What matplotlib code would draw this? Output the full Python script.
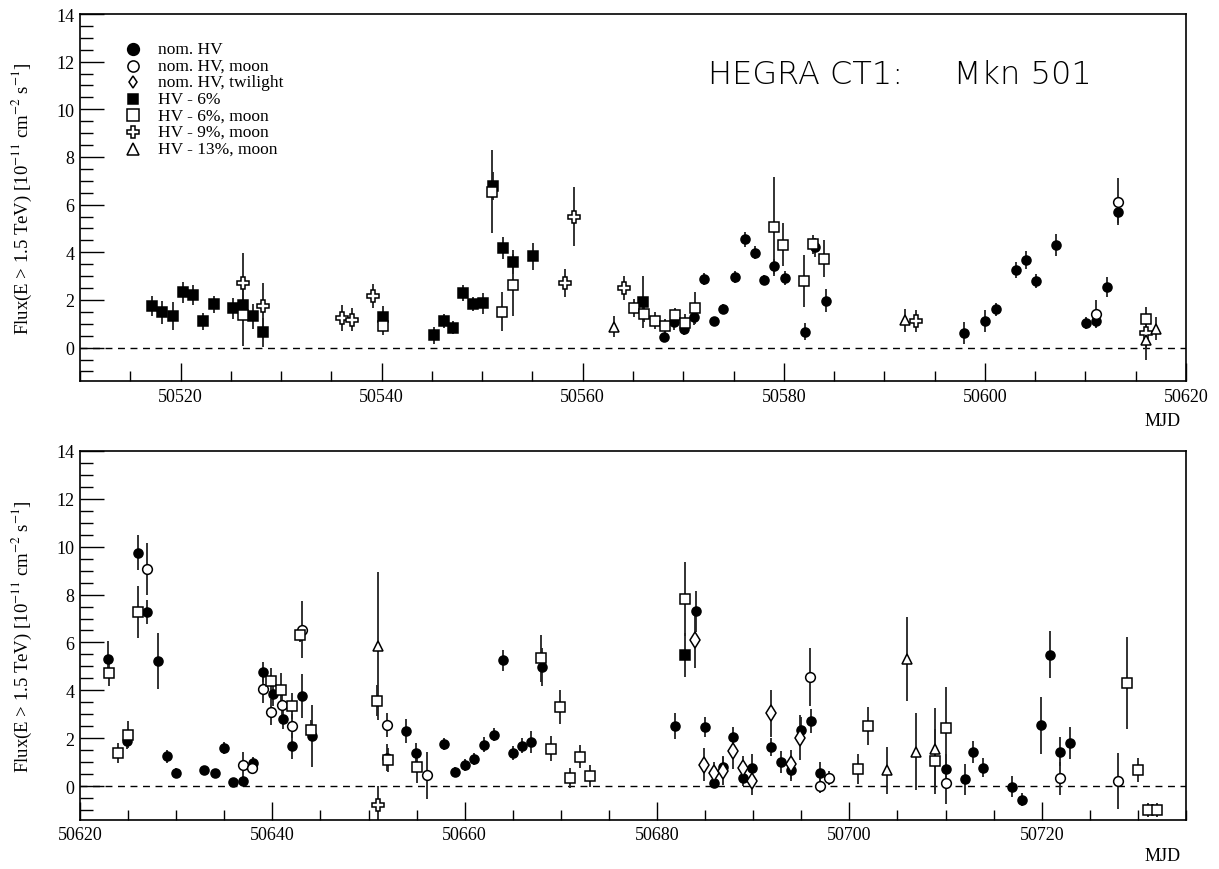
import matplotlib
matplotlib.use("Agg")
import matplotlib.pyplot as plt
from matplotlib.ticker import MultipleLocator
import numpy as np

# ---------------- data: top panel ----------------
t_nom_x = [50568.1, 50569.1, 50570.1, 50571.1, 50572.1, 50573.1, 50574.0, 50575.1, 50576.1,
           50577.1, 50578.0, 50579.0, 50580.1, 50582.1, 50583.1, 50584.2, 50597.9, 50600.0,
           50601.1, 50603.1, 50604.1, 50605.1, 50607.1, 50610.1, 50611.0, 50612.1, 50613.2]
t_nom_y = [0.43, 1.06, 0.78, 1.27, 2.89, 1.12, 1.63, 2.96, 4.54, 3.98, 2.85, 3.41, 2.92, 0.67,
           4.22, 1.97, 0.61, 1.12, 1.61, 3.26, 3.66, 2.81, 4.30, 1.03, 1.10, 2.53, 5.69]
t_nom_e = [0.2, 0.3, 0.25, 0.3, 0.25, 0.15, 0.2, 0.25, 0.3, 0.28, 0.2, 0.3, 0.3, 0.35, 0.4,
           0.47, 0.47, 0.45, 0.28, 0.32, 0.38, 0.3, 0.45, 0.24, 0.24, 0.42, 0.45]

t_moon_x = [50611.0, 50613.2]
t_moon_y = [1.41, 6.13]
t_moon_e = [0.57, 1.0]

t_hv6_x = [50517.2, 50518.2, 50519.2, 50520.2, 50521.2, 50522.2, 50523.3, 50525.2, 50526.2,
           50527.2, 50528.2, 50540.1, 50545.2, 50546.2, 50547.1, 50548.1, 50549.1, 50550.1,
           50551.1, 50552.1, 50553.1, 50555.1, 50566.0]
t_hv6_y = [1.73, 1.48, 1.31, 2.32, 2.21, 1.10, 1.82, 1.66, 1.80, 1.31, 0.64, 1.28, 0.52, 1.12,
           0.84, 2.29, 1.82, 1.86, 6.78, 4.19, 3.59, 3.83, 1.91]
t_hv6_e = [0.42, 0.47, 0.59, 0.45, 0.41, 0.34, 0.35, 0.44, 0.4, 0.54, 0.6, 0.45, 0.35, 0.3,
           0.28, 0.34, 0.3, 0.45, 0.6, 0.45, 0.5, 0.57, 1.1]

t_hv6m_x = [50526.2, 50540.1, 50551.0, 50552.0, 50553.1, 50565.1, 50566.1, 50567.2, 50568.2,
            50569.2, 50570.2, 50571.2, 50579.0, 50579.9, 50582.0, 50582.9, 50584.0, 50616.0]
t_hv6m_y = [1.38, 0.92, 6.55, 1.51, 2.63, 1.66, 1.42, 1.13, 0.92, 1.38, 1.05, 1.66, 5.08, 4.32,
            2.79, 4.34, 3.74, 1.2]
t_hv6m_e = [1.3, 0.4, 1.73, 0.81, 1.3, 0.36, 0.35, 0.35, 0.3, 0.3, 0.35, 0.68, 2.07, 0.9,
            1.08, 0.4, 0.77, 0.5]

t_hv9_x = [50526.2, 50528.2, 50536.1, 50537.1, 50539.1, 50558.2, 50559.1, 50564.1, 50593.1, 50616.0]
t_hv9_y = [2.72, 1.76, 1.26, 1.17, 2.17, 2.70, 5.50, 2.51, 1.12, 0.6]
t_hv9_e = [1.25, 0.96, 0.55, 0.48, 0.52, 0.58, 1.24, 0.5, 0.45, 0.6]

t_hv13_x = [50563.1, 50592.1, 50616.0, 50617.0]
t_hv13_y = [0.87, 1.15, 0.3, 0.8]
t_hv13_e = [0.44, 0.49, 0.8, 0.5]

# ---------------- data: bottom panel ----------------
b_nom_x = [50622.9, 50624.9, 50626.0, 50627.0, 50628.1, 50629.0, 50630.0, 50632.9, 50634.0,
           50635.0, 50635.9, 50637.0, 50638.0, 50639.0, 50640.1, 50641.1, 50642.0, 50643.1,
           50644.1, 50651.9, 50653.9, 50654.9, 50657.9, 50659.0, 50660.0, 50661.0, 50662.0,
           50663.0, 50664.0, 50665.0, 50666.0, 50666.9, 50668.0, 50681.9, 50684.0, 50685.0,
           50685.9, 50686.9, 50687.9, 50688.9, 50689.9, 50691.9, 50692.9, 50693.9, 50695.0,
           50696.0, 50696.9, 50710.0, 50712.0, 50712.9, 50713.9, 50716.9, 50717.9, 50719.9,
           50720.9, 50721.9, 50722.9]
b_nom_y = [5.31, 1.88, 9.75, 7.28, 5.22, 1.24, 0.54, 0.66, 0.54, 1.58, 0.17, 0.20, 0.95, 4.77,
           3.84, 2.79, 1.67, 3.75, 2.09, 1.19, 2.30, 1.37, 1.74, 0.59, 0.88, 1.13, 1.73, 2.15,
           5.25, 1.38, 1.69, 1.84, 4.98, 2.51, 7.30, 2.47, 0.14, 0.81, 2.05, 0.32, 0.75, 1.63,
           1.01, 0.66, 2.33, 2.71, 0.54, 0.73, 0.28, 1.42, 0.77, -0.04, -0.57, 2.53, 5.48,
           1.44, 1.80]
b_nom_e = [0.75, 0.35, 0.73, 0.5, 1.17, 0.27, 0.2, 0.17, 0.13, 0.25, 0.1, 0.2, 0.25, 0.43,
           0.5, 0.4, 0.53, 0.92, 1.3, 0.58, 0.49, 0.43, 0.25, 0.2, 0.25, 0.25, 0.3, 0.28, 0.45,
           0.28, 0.3, 0.45, 0.8, 0.55, 0.87, 0.43, 0.2, 0.45, 0.4, 0.3, 0.6, 0.38, 0.45, 0.45,
           0.55, 0.5, 0.45, 0.6, 0.64, 0.47, 0.38, 0.44, 0.28, 1.2, 0.98, 0.6, 0.68]

b_moon_x = [50627.0, 50636.9, 50637.9, 50639.0, 50639.9, 50641.0, 50642.0, 50643.1, 50651.9,
            50656.1, 50695.9, 50696.9, 50697.9, 50710.0, 50721.9, 50727.9]
b_moon_y = [9.07, 0.87, 0.74, 4.05, 3.10, 3.39, 2.51, 6.53, 2.55, 0.45, 4.56, -0.01, 0.34,
            0.13, 0.32, 0.21]
b_moon_e = [1.07, 0.55, 0.2, 0.6, 0.55, 0.5, 0.5, 1.2, 0.5, 0.98, 1.22, 0.3, 0.3, 0.9, 0.68, 1.16]

b_twi_x = [50683.9, 50684.9, 50685.9, 50686.9, 50687.9, 50688.9, 50689.9, 50691.9, 50693.9, 50694.9]
b_twi_y = [6.10, 0.88, 0.56, 0.63, 1.47, 0.77, 0.21, 3.03, 0.91, 2.02]
b_twi_e = [1.15, 0.69, 0.45, 0.6, 0.77, 0.5, 0.6, 1.0, 0.6, 0.93]

b_hv6_x = [50682.9]
b_hv6_y = [5.47]
b_hv6_e = [0.92]

b_hv6m_x = [50623.0, 50624.0, 50625.0, 50626.0, 50639.9, 50640.9, 50642.0, 50642.9, 50644.0,
            50650.9, 50652.0, 50655.0, 50667.9, 50669.0, 50669.9, 50671.0, 50672.0, 50673.0,
            50682.9, 50700.9, 50701.9, 50708.9, 50710.0, 50728.9, 50730.0, 50731.0, 50732.0]
b_hv6m_y = [4.72, 1.38, 2.15, 7.27, 4.37, 4.03, 3.35, 6.32, 2.34, 3.56, 1.09, 0.81, 5.33, 1.56,
            3.29, 0.35, 1.23, 0.41, 7.81, 0.71, 2.51, 1.03, 2.44, 4.31, 0.65, -1.0, -1.0]
b_hv6m_e = [0.55, 0.43, 0.55, 1.08, 0.55, 0.7, 0.55, 0.3, 0.4, 0.65, 0.5, 0.7, 1.0, 0.52, 0.71,
            0.42, 0.47, 0.45, 1.55, 0.64, 0.81, 1.35, 1.7, 1.93, 0.5, 0.3, 0.3]

b_hv9_x = [50651.0]
b_hv9_y = [-0.79]
b_hv9_e = [0.8]

b_hv13_x = [50651.0, 50703.9, 50706.0, 50706.9, 50708.9]
b_hv13_y = [5.86, 0.66, 5.30, 1.44, 1.54]
b_hv13_e = [3.1, 0.98, 1.76, 1.6, 1.7]

legend_labels = ["nom. HV", "nom. HV, moon", "nom. HV, twilight", "HV - 6%",
                 "HV - 6%, moon", "HV - 9%, moon", "HV - 13%, moon"]

# ---------------- styling ----------------
plt.rcParams['font.family'] = ['Liberation Serif', 'DejaVu Serif']
plt.rcParams['mathtext.fontset'] = 'stix'

styles = [
    dict(marker='o', mfc='black', mec='black', ms=6.5),
    dict(marker='o', mfc='white', mec='black', ms=7),
    dict(marker='d', mfc='white', mec='black', ms=8),
    dict(marker='s', mfc='black', mec='black', ms=6.5),
    dict(marker='s', mfc='white', mec='black', ms=7),
    dict(marker='P', mfc='white', mec='black', ms=8),
    dict(marker='^', mfc='white', mec='black', ms=7.5),
]

fig = plt.figure(figsize=(12.19, 8.70), dpi=100)
ax1 = fig.add_axes([80/1219, 1-382/870, (1186-80)/1219, (382-15)/870])
ax2 = fig.add_axes([80/1219, 1-820.5/870, (1186-80)/1219, (820.5-452)/870])

top_series = [(t_nom_x, t_nom_y, t_nom_e), (t_moon_x, t_moon_y, t_moon_e), ([], [], []),
              (t_hv6_x, t_hv6_y, t_hv6_e), (t_hv6m_x, t_hv6m_y, t_hv6m_e),
              (t_hv9_x, t_hv9_y, t_hv9_e), (t_hv13_x, t_hv13_y, t_hv13_e)]
bot_series = [(b_nom_x, b_nom_y, b_nom_e), (b_moon_x, b_moon_y, b_moon_e),
              (b_twi_x, b_twi_y, b_twi_e), (b_hv6_x, b_hv6_y, b_hv6_e),
              (b_hv6m_x, b_hv6m_y, b_hv6m_e), (b_hv9_x, b_hv9_y, b_hv9_e),
              (b_hv13_x, b_hv13_y, b_hv13_e)]

ylabel = r"Flux(E > 1.5 TeV) [10$^{-11}$ cm$^{-2}$ s$^{-1}$]"

def setup(ax, xlim, mjd_y):
    ax.set_xlim(*xlim)
    ax.set_ylim(-1.4, 14)
    ax.axhline(0, color='black', ls=(0, (5, 4)), lw=1.0, zorder=1)
    ax.xaxis.set_major_locator(MultipleLocator(20))
    ax.xaxis.set_minor_locator(MultipleLocator(5))
    ax.yaxis.set_major_locator(MultipleLocator(2))
    ax.yaxis.set_minor_locator(MultipleLocator(0.5))
    ax.tick_params(which='both', direction='in', top=False, right=False, labelsize=13,
                   width=1.0)
    ax.tick_params(axis='x', which='major', length=13, pad=5)
    ax.tick_params(axis='x', which='minor', length=7)
    ax.tick_params(axis='y', which='major', length=17, pad=4)
    ax.tick_params(axis='y', which='minor', length=9)
    for s in ax.spines.values():
        s.set_linewidth(1.2)
    ax.set_ylabel(ylabel, fontsize=13.5, labelpad=16)
    ax.text(0.995, mjd_y, "MJD", transform=ax.transAxes, ha='right', va='top', fontsize=13)

setup(ax1, (50510, 50620), -0.085)
setup(ax2, (50620, 50735), -0.075)

for ax, series in ((ax1, top_series), (ax2, bot_series)):
    for (xs, ys, es), st in zip(series, styles):
        if len(xs) == 0:
            continue
        ax.errorbar(xs, ys, yerr=es, fmt='none', ecolor='#222222', elinewidth=1.3,
                    capsize=0, zorder=2)
        ax.plot(xs, ys, ls='none', marker=st['marker'], mfc=st['mfc'], mec=st['mec'],
                ms=st['ms'], mew=1.1, zorder=3)

# legend (drawn manually in ROOT style)
for i, (lab, st) in enumerate(zip(legend_labels, styles)):
    yy = 50 + i * 16.6
    fig_y = 1 - yy / 870
    ax1.plot([133/1219], [fig_y], transform=fig.transFigure, ls='none',
             marker=st['marker'], mfc=st['mfc'], mec=st['mec'],
             ms=st['ms'] * (1.3 if i == 0 else (0.75 if i == 2 else 1.15)), mew=1.1,
             clip_on=False)
    fig.text(158/1219, fig_y, lab, ha='left', va='center', fontsize=12.5)

fig.text(708/1219, 1 - 75/870, "HEGRA CT1:     Mkn 501", ha='left', va='center',
         fontsize=23, family=['DejaVu Sans'], fontweight='light')

fig.savefig("out.png", dpi=100)
